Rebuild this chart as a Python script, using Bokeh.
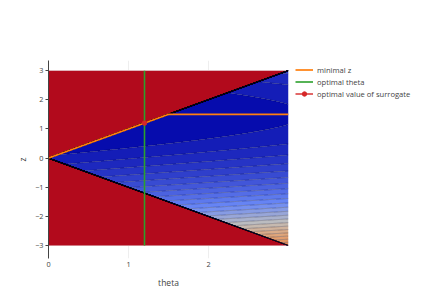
import numpy as np
from bokeh.plotting import figure
from bokeh.models import Legend, LegendItem
from bokeh.embed import file_html
from bokeh.resources import INLINE

# ---------------- data ----------------
THETA_RANGE = [0.0, 3.0]
Z_RANGE = [-3.0, 3.0]
# surrogate f(theta, z) = A_SLOPE*theta + (B0 + B1*theta)*(z - Z_TARGET)^2, feasible where |z| <= theta
A_SLOPE = 0.6315
B0 = 1.0
B1 = 0.05
Z_TARGET = 1.5
INFEASIBLE_VALUE = 34.0
LEVEL_START = 2.03
LEVEL_STEP = 1.05
X_TICKS = [0, 1, 2]
Y_TICKS = [-3, -2, -1, 0, 1, 2, 3]
LEGEND_LABELS = ["minimal z", "optimal theta", "optimal value of surrogate"]
X_TITLE = "theta"
Y_TITLE = "z"

# plotly RdBu colour scale
RDBU = [(0.0, (5, 10, 172)), (0.35, (106, 137, 247)), (0.5, (190, 190, 190)),
        (0.6, (220, 170, 132)), (0.7, (230, 145, 90)), (1.0, (178, 10, 28))]


def rdbu(t):
    t = min(max(t, 0.0), 1.0)
    for (t0, c0), (t1, c1) in zip(RDBU[:-1], RDBU[1:]):
        if t <= t1:
            u = (t - t0) / (t1 - t0) if t1 > t0 else 0
            r, g, b = (int(round(a + (bb - a) * u)) for a, bb in zip(c0, c1))
            return "#%02x%02x%02x" % (r, g, b)
    return "#%02x%02x%02x" % RDBU[-1][1]


# ---------------- field ----------------
theta = np.linspace(THETA_RANGE[0], THETA_RANGE[1], 301)
zz = np.linspace(Z_RANGE[0], Z_RANGE[1], 601)
T, Zg = np.meshgrid(theta, zz)
F = A_SLOPE * T + (B0 + B1 * T) * (Zg - Z_TARGET) ** 2
F[np.abs(Zg) > T + 1e-9] = INFEASIBLE_VALUE

min_idx = np.argmin(F, axis=0)
min_z = zz[min_idx]
min_val = F.min(axis=0)
opt_i = int(np.argmin(min_val))
opt_theta = theta[opt_i]
opt_z = min_z[opt_i]

fmin = F.min()
levels = [0.0]
k = 0
while LEVEL_START + k * LEVEL_STEP < INFEASIBLE_VALUE:
    levels.append(LEVEL_START + k * LEVEL_STEP)
    k += 1
levels.append(INFEASIBLE_VALUE + 1.0)
colors = []
for lo, hi in zip(levels[:-1], levels[1:]):
    mid = 0.5 * (lo + hi)
    colors.append(rdbu((mid - fmin) / (INFEASIBLE_VALUE - fmin)))
colors[-1] = rdbu(1.0)

# ---------------- figure ----------------
p = figure(frame_width=240, frame_height=198, x_range=(0, 3), y_range=(-3.45, 3.35),
           output_backend="svg", toolbar_location=None,
           min_border_left=48, min_border_top=60, min_border_right=130, min_border_bottom=41,
           background_fill_color="white", border_fill_color="white")
p.outline_line_color = None

p.contour(x=theta, y=zz, z=F, levels=levels, fill_color=colors,
          line_color="#0a0a28", line_alpha=0.55, line_width=0.5)

r_min = p.line(theta, min_z, line_color="#ff7f0e", line_width=1.7)
r_opt = p.line([opt_theta, opt_theta], Z_RANGE, line_color="#2ca02c", line_width=1.6)
r_sl = p.line([opt_theta], [opt_z], line_color="#d62728", line_width=1.4)
r_sp = p.scatter([opt_theta], [opt_z], size=4.5, color="#d62728")

# axes
font = "Open Sans"
for ax in (p.xaxis[0], p.yaxis[0]):
    ax.major_label_text_font = font
    ax.major_label_text_font_size = "7.3px"
    ax.major_label_text_color = "#444444"
    ax.axis_label_text_font = font
    ax.axis_label_text_font_size = "8.5px"
    ax.axis_label_text_font_style = "normal"
    ax.axis_label_text_color = "#444444"
    ax.minor_tick_line_color = None

p.xaxis.ticker = X_TICKS
p.xaxis.axis_label = X_TITLE
p.xaxis.axis_line_color = None
p.xaxis.major_tick_line_color = None
p.xaxis.major_tick_out = 0
p.xaxis.major_tick_in = 0
p.xaxis.major_label_standoff = 3
p.xaxis.axis_label_standoff = 7

p.yaxis.ticker = Y_TICKS
p.yaxis.axis_label = Y_TITLE
p.yaxis.axis_line_color = "#444444"
p.yaxis.axis_line_width = 1
p.yaxis.major_tick_line_color = "#444444"
p.yaxis.major_tick_out = 3
p.yaxis.major_tick_in = 0
p.yaxis.major_label_standoff = 2
p.yaxis.axis_label_standoff = 4
p.yaxis.major_label_overrides = {t: ("\u2212%d" % -t if t < 0 else "%d" % t) for t in Y_TICKS}

p.xgrid.grid_line_color = "#eeeeee"
p.xgrid.ticker = X_TICKS
p.ygrid.grid_line_color = "#eeeeee"

legend = Legend(items=[LegendItem(label=LEGEND_LABELS[0], renderers=[r_min]),
                       LegendItem(label=LEGEND_LABELS[1], renderers=[r_opt]),
                       LegendItem(label=LEGEND_LABELS[2], renderers=[r_sl, r_sp])],
                location=(7, 159), margin=0, padding=0, spacing=1,
                glyph_width=18, glyph_height=11, label_height=11, label_standoff=4,
                label_text_font=font, label_text_font_size="7.6px", label_text_color="#444444",
                border_line_color=None, background_fill_alpha=0)
p.add_layout(legend, "right")

open("out.html", "w").write(file_html(p, INLINE))
